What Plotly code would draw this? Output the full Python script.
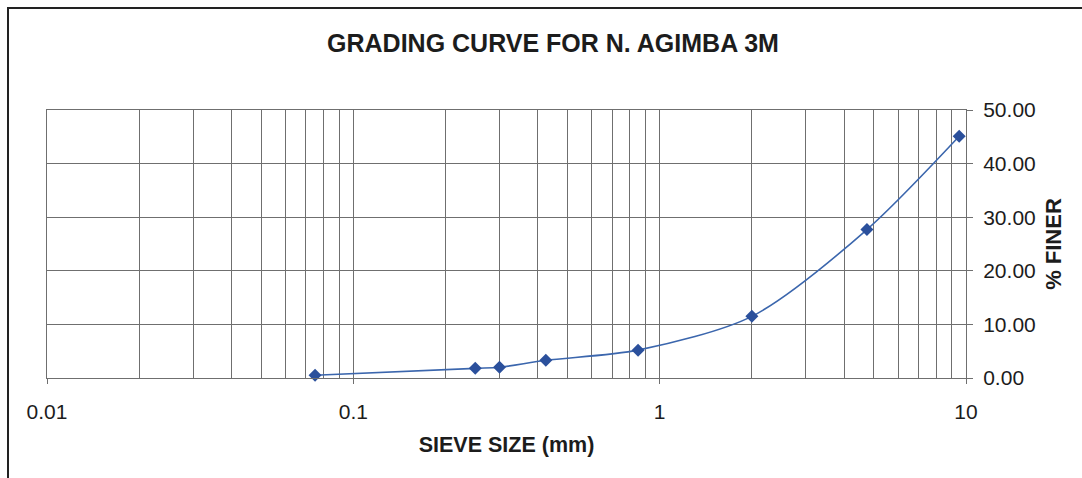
import plotly.graph_objects as go

# Sieve analysis results
sieve_mm = [0.075, 0.25, 0.3, 0.425, 0.85, 2.0, 4.75, 9.5]
percent_finer = [0.5, 1.8, 2.0, 3.3, 5.2, 11.5, 27.7, 45.1]

x_tick_vals = [0.01, 0.1, 1, 10]
x_tick_text = ["0.01", "0.1", "1", "10"]
y_tick_vals = [0, 10, 20, 30, 40, 50]

FONT = "Liberation Sans, Arial, sans-serif"
GRID = "#6f6f6f"
TEXT = "#1c1c1c"

fig = go.Figure()
fig.add_trace(go.Scatter(
    x=sieve_mm,
    y=percent_finer,
    mode="lines+markers",
    line=dict(color="#3b66ad", width=1.6, shape="spline", smoothing=0.8),
    marker=dict(symbol="diamond", size=10, color="#2b509c"),
    showlegend=False,
    cliponaxis=False,
))

W, H = 1082, 478
L, R, T, B = 47, 116, 110, 100
pw, ph = W - L - R, H - T - B


def px_to_paper(px, py):
    return (px - L) / pw, (H - B - py) / ph


# outer chart frame
x0, y1 = px_to_paper(8, 8)
x1, y0 = px_to_paper(W + 20, H + 20)
fig.add_shape(type="rect", xref="paper", yref="paper",
              x0=x0, y0=y0, x1=x1, y1=y1,
              line=dict(color="#222222", width=2), layer="below")

fig.update_layout(
    width=W, height=H,
    margin=dict(l=L, r=R, t=T, b=B),
    paper_bgcolor="white",
    plot_bgcolor="white",
    font=dict(family=FONT, color=TEXT),
    title=dict(
        text="<b>GRADING CURVE FOR N. AGIMBA 3M</b>",
        x=553 / W, xanchor="center",
        y=1 - 43 / H, yanchor="middle",
        font=dict(size=25, family=FONT, color=TEXT),
    ),
)

fig.update_xaxes(
    type="log",
    range=[-2, 1],
    tickvals=x_tick_vals,
    ticktext=x_tick_text,
    ticks="outside", ticklen=5, tickcolor=GRID,
    ticklabelstandoff=10,
    tickfont=dict(size=21, family=FONT, color=TEXT),
    showgrid=True, gridcolor=GRID, gridwidth=1,
    minor=dict(dtick="D1", showgrid=True, gridcolor=GRID, gridwidth=1, ticks=""),
    showline=True, mirror=True, linecolor=GRID, linewidth=1,
    zeroline=False,
    title=dict(text="<b>SIEVE SIZE (mm)</b>", standoff=14,
               font=dict(size=21.5, family=FONT, color=TEXT)),
)

fig.update_yaxes(
    side="right",
    range=[0, 50],
    tickvals=y_tick_vals,
    tickformat=".2f",
    ticks="outside", ticklen=6, tickcolor=GRID,
    ticklabelstandoff=6,
    tickfont=dict(size=21, family=FONT, color=TEXT),
    showgrid=True, gridcolor=GRID, gridwidth=1,
    showline=True, mirror=True, linecolor=GRID, linewidth=1,
    zeroline=False,
    title=dict(text="<b>% FINER</b>", standoff=10,
               font=dict(size=22, family=FONT, color=TEXT)),
)

fig.write_html("out.html")
